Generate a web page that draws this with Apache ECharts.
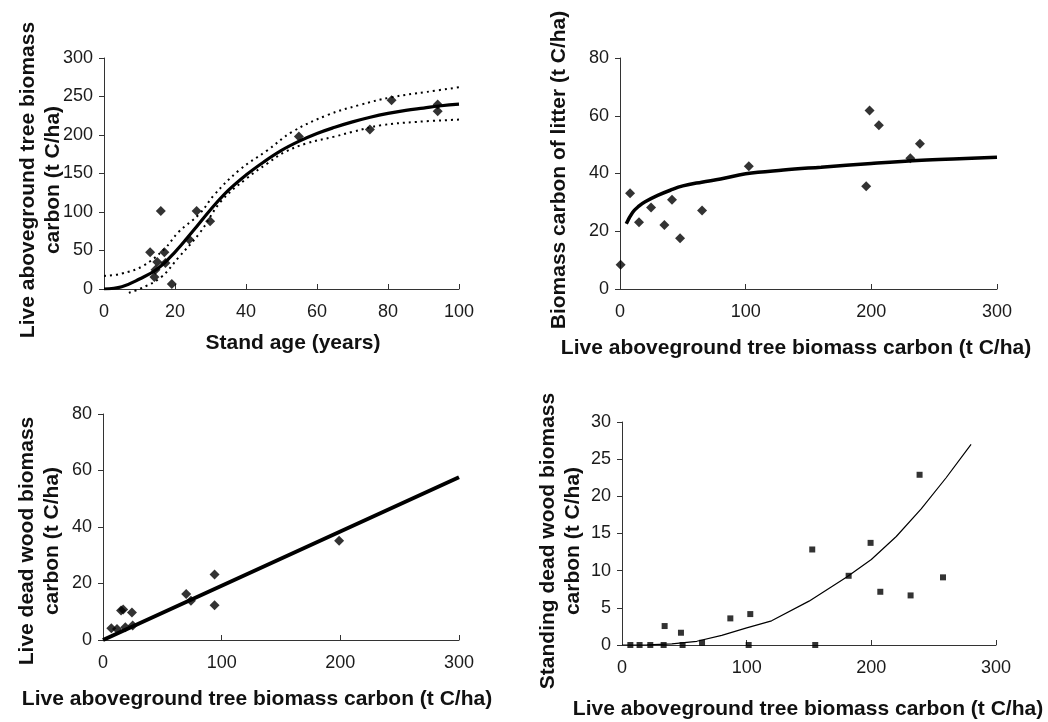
<!DOCTYPE html>
<html>
<head>
<meta charset="utf-8">
<script src="https://cdn.jsdelivr.net/npm/echarts@6/dist/echarts.min.js"></script>
<style>
html,body{margin:0;padding:0;background:#fff;}
#chart{width:1048px;height:722px;}
</style>
</head>
<body>
<div id="chart"></div>
<script>
// Panel 1: stand age vs live aboveground tree biomass carbon
const p1AgeObs = [13.0, 16.0, 14.2, 14.5, 15.0, 17.0, 17.3, 19.1, 24.0, 26.1, 29.9, 54.9, 74.9, 81.0, 94.0, 94.0];
const p1BiomassObs = [47.7, 101.3, 15.6, 25.0, 35.1, 47.7, 33.8, 6.5, 64.2, 101.3, 87.9, 198, 207, 245, 239.5, 230.8];
const p1FitAge = [0, 5, 10, 15, 20, 25, 30, 35, 40, 45, 50, 55, 60, 65, 70, 75, 80, 85, 90, 95, 100];
const p1FitBiomass = [0, 3, 13, 26, 48, 75, 103, 128, 148, 165, 180, 192, 202, 210, 217, 223, 228, 232, 235, 238, 240];
const p1UpperAge = [0, 5, 11, 17, 21, 27, 31, 38, 46, 53, 63, 72, 81, 91, 100];
const p1UpperBiomass = [17, 20, 30, 52, 74, 98, 122, 154, 180, 204, 226, 239, 249, 256, 262];
const p1LowerAge = [7, 10, 16, 21, 27, 33, 40, 46, 51, 57, 65, 70, 78, 88, 100];
const p1LowerBiomass = [-5, 0, 15, 41, 73, 114, 143, 163, 178, 189, 198, 204, 212.6, 217, 220];

// Panel 2: live tree biomass carbon vs litter carbon
const p2TreeObs = [0.5, 8, 15.1, 24.7, 35.3, 41.4, 47.8, 65.3, 102.5, 195.9, 198.6, 206, 231, 238.7];
const p2LitterObs = [8.4, 33.2, 23.1, 28.2, 22.2, 30.9, 17.6, 27.2, 42.5, 35.6, 61.8, 56.7, 45.3, 50.3];
const p2FitTree = [5, 10, 15, 20, 30, 40, 50, 65, 80, 100, 130, 160, 200, 240, 270, 300];
const p2FitLitter = [22.6, 26.5, 28.7, 30.2, 32.4, 34.2, 35.7, 37.0, 38.1, 39.9, 41.2, 42.2, 43.5, 44.6, 45.1, 45.6];

// Panel 3: live tree biomass carbon vs live dead wood carbon
const p3TreeObs = [7, 11.8, 15.2, 17.0, 18.8, 24.4, 25.0, 70.1, 74.1, 94, 94, 199];
const p3DeadObs = [4.2, 3.9, 10.4, 10.8, 4.5, 9.7, 5.1, 16.3, 13.9, 23.2, 12.3, 35.1];
const p3FitTree = [0, 300];
const p3FitDead = [0, 57.6];

// Panel 4: live tree biomass carbon vs standing dead wood carbon
const p4TreeObs = [6.7, 14.1, 22.7, 33.4, 48.6, 34.2, 47.3, 64.2, 86.9, 101.6, 102.9, 152.6, 155, 181.8, 199.4, 207.2, 231.5, 238.7, 257.5];
const p4StandObs = [0, 0, 0, 0, 0, 2.55, 1.65, 0.3, 3.58, 0, 4.16, 12.85, 0, 9.31, 13.74, 7.16, 6.67, 22.9, 9.1];
const p4FitTree = [0, 20, 40, 60, 80, 100, 120, 150, 180, 200, 220, 240, 260, 280];
const p4FitStand = [0, 0.02, 0.15, 0.5, 1.3, 2.3, 3.25, 5.9, 9.1, 11.5, 14.6, 18.3, 22.5, 27];

// Tick settings
const p1XTicks = {min: 0, max: 100, interval: 20};
const p1YTicks = {min: 0, max: 300, interval: 50};
const p2XTicks = {min: 0, max: 300, interval: 100};
const p2YTicks = {min: 0, max: 80, interval: 20};
const p3XTicks = {min: 0, max: 300, interval: 100};
const p3YTicks = {min: 0, max: 80, interval: 20};
const p4XTicks = {min: 0, max: 300, interval: 100};
const p4YTicks = {min: 0, max: 30, interval: 5};

const xTitle = 'Live aboveground tree biomass carbon (t C/ha)';

function zip(a, b) { return a.map((v, i) => [v, b[i]]); }

const FONT = "'Liberation Sans', Arial, sans-serif";
const AXIS_COLOR = '#333';
const LABEL_COLOR = '#1a1a1a';

function xAxis(idx, t) {
  return {
    type: 'value', gridIndex: idx, min: t.min, max: t.max, interval: t.interval,
    axisLine: {show: true, lineStyle: {color: AXIS_COLOR, width: 1}},
    axisTick: {show: true, inside: true, length: 5, lineStyle: {color: AXIS_COLOR}},
    axisLabel: {color: LABEL_COLOR, fontFamily: FONT, fontSize: 18, margin: 14},
    splitLine: {show: false}
  };
}
function yAxis(idx, t) {
  return {
    type: 'value', gridIndex: idx, min: t.min, max: t.max, interval: t.interval,
    axisLine: {show: true, lineStyle: {color: AXIS_COLOR, width: 1}},
    axisTick: {show: true, inside: false, length: 5, lineStyle: {color: AXIS_COLOR}},
    axisLabel: {color: LABEL_COLOR, fontFamily: FONT, fontSize: 18, margin: 11},
    splitLine: {show: false}
  };
}
function scatter(idx, x, y, symbol, size) {
  return {
    type: 'scatter', xAxisIndex: idx, yAxisIndex: idx,
    data: zip(x, y), symbol: symbol, symbolSize: size,
    itemStyle: {color: '#000'}, z: 3
  };
}
function line(idx, x, y, width, dash, smooth, clip) {
  return {
    type: 'line', xAxisIndex: idx, yAxisIndex: idx,
    data: zip(x, y), showSymbol: false, symbol: 'none', smooth: smooth,
    clip: clip, z: 2,
    lineStyle: {color: '#000', width: width, type: dash}
  };
}
function hText(text, x, y) {
  return {type: 'text', x: x, y: y, style: {text: text, font: "bold 21px " + FONT,
    fill: '#111', textAlign: 'center', textVerticalAlign: 'middle'}};
}
function vText(text, x, y) {
  return {type: 'text', x: x, y: y, rotation: Math.PI / 2, style: {text: text, font: "bold 21px " + FONT,
    fill: '#111', textAlign: 'center', textVerticalAlign: 'middle'}};
}

const chart = echarts.init(document.getElementById('chart'), null, {renderer: 'canvas'});
chart.setOption({
  animation: false,
  backgroundColor: '#fff',
  grid: [
    {left: 104, top: 58, width: 355, height: 231},
    {left: 620, top: 58, width: 377, height: 231},
    {left: 103, top: 414, width: 356, height: 226},
    {left: 622, top: 422, width: 374, height: 223}
  ],
  xAxis: [xAxis(0, p1XTicks), xAxis(1, p2XTicks), xAxis(2, p3XTicks), xAxis(3, p4XTicks)],
  yAxis: [yAxis(0, p1YTicks), yAxis(1, p2YTicks), yAxis(2, p3YTicks), yAxis(3, p4YTicks)],
  series: [
    line(0, p1FitAge, p1FitBiomass, 3.2, 'solid', 0.4, true),
    line(0, p1UpperAge, p1UpperBiomass, 2, [2, 4], 0.4, false),
    line(0, p1LowerAge, p1LowerBiomass, 2, [2, 4], 0.4, false),
    scatter(0, p1AgeObs, p1BiomassObs, 'diamond', 10),
    line(1, p2FitTree, p2FitLitter, 3.5, 'solid', 0.4, true),
    scatter(1, p2TreeObs, p2LitterObs, 'diamond', 10),
    line(2, p3FitTree, p3FitDead, 4, 'solid', false, true),
    scatter(2, p3TreeObs, p3DeadObs, 'diamond', 10),
    line(3, p4FitTree, p4FitStand, 1.2, 'solid', false, true),
    scatter(3, p4TreeObs, p4StandObs, 'rect', 6)
  ],
  graphic: [
    hText('Stand age (years)', 293, 343),
    vText('Live aboveground tree biomass', 28, 180),
    vText('carbon (t C/ha)', 53, 180),
    hText(xTitle, 796, 348),
    vText('Biomass carbon of litter (t C/ha)', 559, 170),
    hText(xTitle, 257, 699),
    vText('Live dead wood biomass', 27, 541),
    vText('carbon (t C/ha)', 52, 541),
    hText(xTitle, 808, 709),
    vText('Standing dead wood biomass', 548, 541),
    vText('carbon (t C/ha)', 573, 541)
  ]
});
</script>
</body>
</html>
